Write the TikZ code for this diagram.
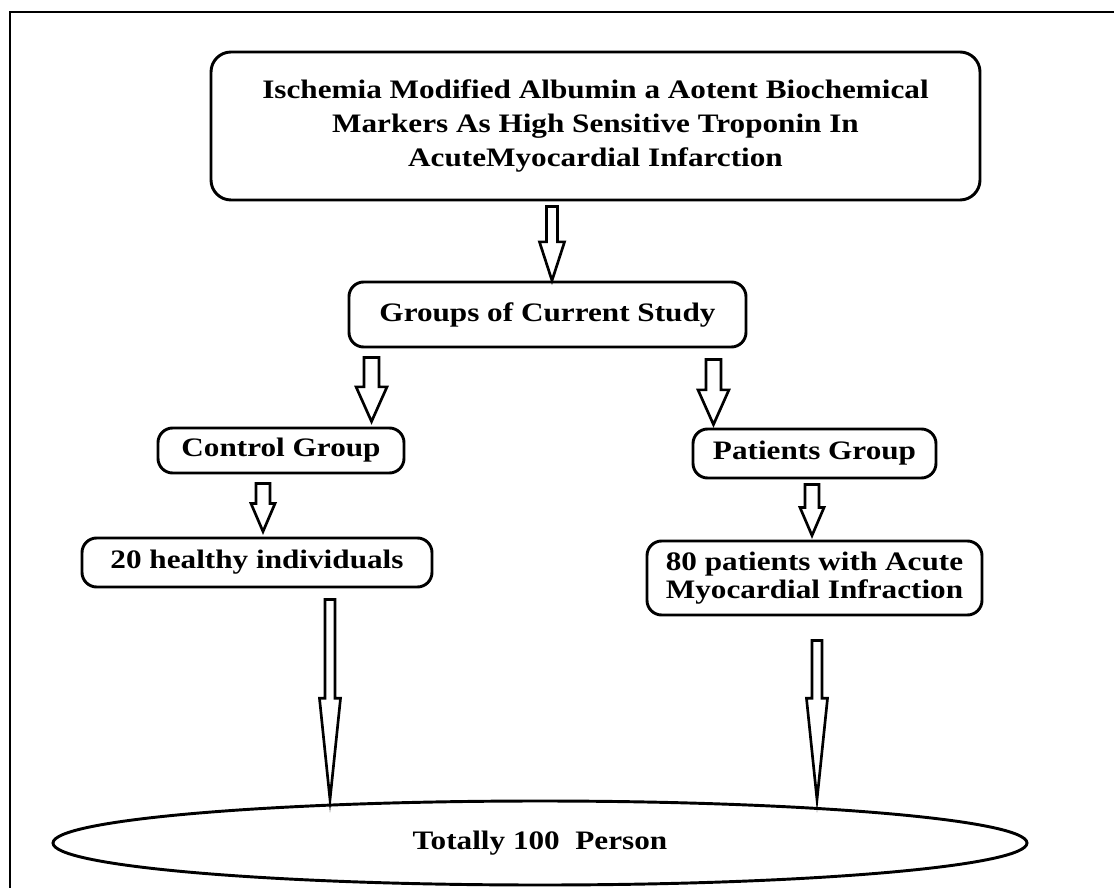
\documentclass[tikz,border=0pt]{standalone}
\usepackage{fontspec}
\setmainfont{Liberation Serif}[FakeStretch=1.17]
\usetikzlibrary{shapes.geometric,calc}

\tikzset{every picture/.style={line width=0.75pt}}
\tikzset{
  flowbox/.style={draw, line width=2.2pt, rounded corners=11pt, align=center, inner sep=0pt,
    font=\bfseries\fontsize{20}{25.5}\selectfont},
  arrowbody/.style={draw, line width=2pt, fill=white, line join=miter}
}
% hollow block arrow: start, end, shaft half width, head half width, head length
\newcommand{\blockarrow}[5]{%
  \draw[arrowbody] let \p1=#1, \p2=#2 in
    (\x1-#3,\y1) -- (\x1+#3,\y1) -- (\x1+#3,\y2-#5) -- (\x1+#4,\y2-#5)
    -- (\x1,\y2) -- (\x1-#4,\y2-#5) -- (\x1-#3,\y2-#5) -- cycle ;}

\begin{document}
\begin{tikzpicture}[x=0.75pt,y=0.75pt,yscale=-1,xscale=1]
\useasboundingbox (0,0) rectangle (1114,888);

%Frame
\draw [line width=1.5pt] (10,888) -- (10,12) -- (1114,12) ;

%Shape: Title box
\node [flowbox, rounded corners=15pt, minimum width=576.75pt, minimum height=111pt] (title) at (595.5,126)
  {Ischemia Modified Albumin a Aotent Biochemical\\Markers As High Sensitive Troponin In\\AcuteMyocardial Infarction};
%Shape: Groups box
\node [flowbox, minimum width=297.75pt, minimum height=48.75pt] (groups) at (547.5,314.5) {Groups of Current Study};
%Shape: Control box
\node [flowbox, minimum width=184.5pt, minimum height=33.75pt] (ctrl) at (281,450.5) {Control Group};
%Shape: Patients box
\node [flowbox, minimum width=182.25pt, minimum height=36.75pt] (pat) at (814.5,453.5) {Patients Group};
%Shape: 20 healthy box
\node [flowbox, minimum width=262.5pt, minimum height=36.75pt] (healthy) at (257,562.5) {20 healthy individuals};
%Shape: 80 patients box
\node [flowbox, minimum width=251.25pt, minimum height=55.5pt, font=\bfseries\fontsize{20}{21}\selectfont] (pat80) at (814.5,578)
  {80 patients with Acute\\Myocardial Infraction};
%Shape: Ellipse
\node [flowbox, ellipse, minimum width=730.5pt, minimum height=63pt] (total) at (540,843) {Totally 100\ \ Person};

%Arrows
\blockarrow{($(title.south -| groups.north)+(4.5,5)$)}{(groups.north)}{4.1pt}{9.4pt}{29pt}
\blockarrow{($(groups.south west)+(24,9)$)}{($(ctrl.north)+(0,-5)$)}{5.6pt}{11.6pt}{26pt}
\blockarrow{($(groups.south east)+(-34,11)$)}{($(pat.north)+(0,-3)$)}{5.6pt}{11.6pt}{26pt}
\blockarrow{($(ctrl.south)+(-18,9)$)}{($(healthy.north)+(0,-5)$)}{5.2pt}{9pt}{21pt}
\blockarrow{($(pat.south)+(-2.5,5)$)}{($(pat80.north)+(0,-4)$)}{5.2pt}{9pt}{21pt}
\blockarrow{($(healthy.south)+(73,11)$)}{(total.north)}{3.75pt}{7.9pt}{76pt}
\blockarrow{($(pat80.south)+(2.5,24)$)}{(total.north)}{3.75pt}{7.9pt}{76pt}

\end{tikzpicture}
\end{document}
